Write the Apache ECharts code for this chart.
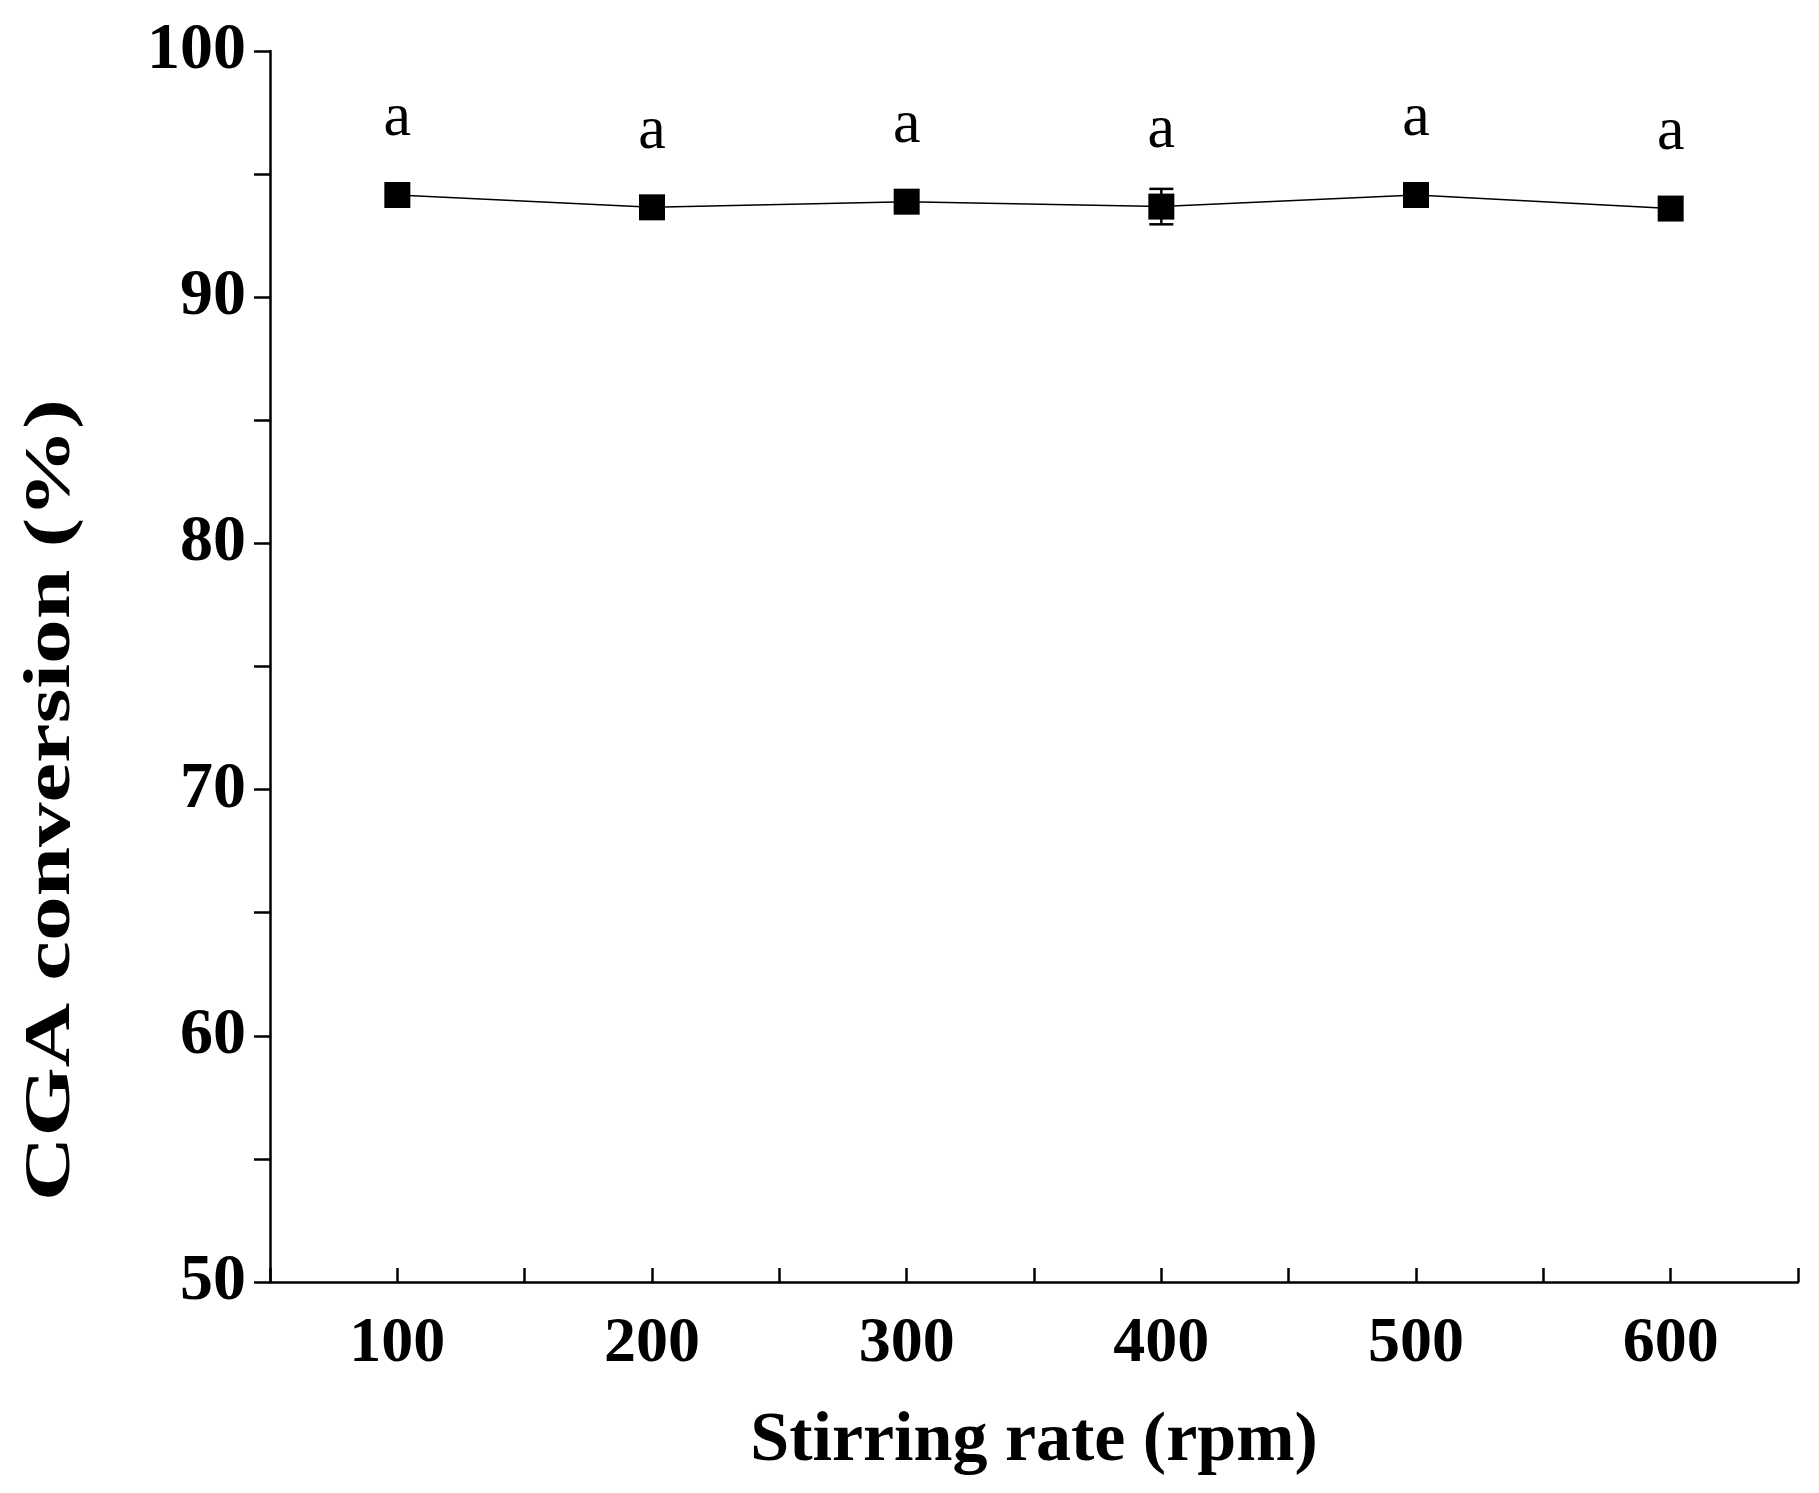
<!DOCTYPE html>
<html>
<head>
<meta charset="utf-8">
<script src="https://cdn.jsdelivr.net/npm/echarts@6/dist/echarts.min.js"></script>
<style>html,body{margin:0;background:#fff}#c{width:1819px;height:1493px}</style>
</head>
<body>
<div id="c"></div>
<script>
// 搅拌速率 vs CGA 转化率
const rates = [100, 200, 300, 400, 500, 600];
const conversion = [94.15, 93.65, 93.88, 93.68, 94.15, 93.6];
const errors = [0.2, 0.2, 0.2, 0.72, 0.2, 0.2];
const letters = ["a", "a", "a", "a", "a", "a"];

const font = "Liberation Serif";
const chart = echarts.init(document.getElementById("c"));
const pts = rates.map((r, i) => [r, conversion[i]]);

chart.setOption({
  animation: false,
  grid: { left: 270, right: 21, top: 51, bottom: 211 },
  graphic: [
    {
      type: "text", x: 52, y: 800, rotation: Math.PI / 2, scaleX: 1.35,
      style: {
        text: "CGA conversion (%)", fontFamily: font, fontWeight: "bold",
        fontSize: 66, fill: "#000", align: "center", verticalAlign: "middle",
      },
    },
  ],
  xAxis: {
    type: "value", min: 50, max: 650, interval: 50,
    name: "Stirring rate (rpm)", nameLocation: "middle", nameGap: 125,
    nameTextStyle: { fontFamily: font, fontWeight: "bold", fontSize: 70, color: "#000" },
    axisLine: { lineStyle: { color: "#000", width: 2.5 } },
    axisTick: { inside: true, length: 14, lineStyle: { color: "#000", width: 2.5 } },
    axisLabel: {
      fontFamily: font, fontWeight: "bold", fontSize: 64, color: "#000", margin: 30,
      formatter: (v) => (v % 100 === 0 ? String(v) : ""),
    },
    splitLine: { show: false },
  },
  yAxis: {
    type: "value", min: 50, max: 100, interval: 5,
    axisLine: { show: true, lineStyle: { color: "#000", width: 2.5 } },
    axisTick: { length: 16, lineStyle: { color: "#000", width: 2.5 } },
    axisLabel: {
      fontFamily: font, fontWeight: "bold", fontSize: 66, color: "#000", margin: 24,
      formatter: (v) => (v % 10 === 0 ? String(v) : ""),
    },
    splitLine: { show: false },
  },
  series: [
    {
      type: "custom",
      data: pts.map((p, i) => [p[0], p[1] - errors[i], p[1] + errors[i]]),
      renderItem: (params, api) => {
        const lo = api.coord([api.value(0), api.value(1)]);
        const hi = api.coord([api.value(0), api.value(2)]);
        const w = 12, s = { stroke: "#000", lineWidth: 2.5 };
        return {
          type: "group",
          children: [
            { type: "line", shape: { x1: lo[0], y1: lo[1], x2: hi[0], y2: hi[1] }, style: s },
            { type: "line", shape: { x1: lo[0] - w, y1: lo[1], x2: lo[0] + w, y2: lo[1] }, style: s },
            { type: "line", shape: { x1: hi[0] - w, y1: hi[1], x2: hi[0] + w, y2: hi[1] }, style: s },
          ],
        };
      },
      z: 1,
    },
    {
      type: "line",
      data: pts,
      symbol: "rect",
      symbolSize: 26,
      itemStyle: { color: "#000" },
      lineStyle: { color: "#000", width: 1.5 },
      label: {
        show: true, position: "top", distance: 32,
        formatter: (p) => letters[p.dataIndex],
        fontFamily: font, fontSize: 62, color: "#000",
      },
      z: 2,
    },
  ],
});
</script>
</body>
</html>
